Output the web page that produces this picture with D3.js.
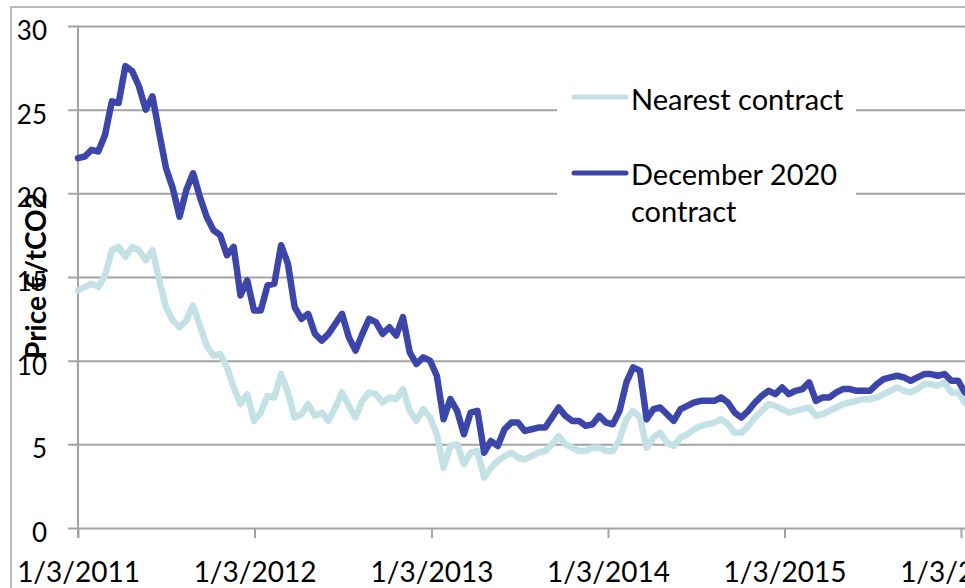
<!DOCTYPE html>
<html>
<head>
<meta charset="utf-8">
<script src="https://cdn.jsdelivr.net/npm/d3@7"></script>
<style>
  html, body { margin: 0; padding: 0; background: #ffffff; }
  svg { display: block; }
  text { font-family: Lato, "Open Sans", sans-serif; fill: #000; }
</style>
</head>
<body>
<svg id="chart" width="965" height="588"></svg>
<script>
// Fortnightly observation dates
const dates = [
  "2011-01-03","2011-01-17","2011-01-31","2011-02-14","2011-02-28","2011-03-14","2011-03-28","2011-04-11","2011-04-25","2011-05-09",
  "2011-05-23","2011-06-06","2011-06-20","2011-07-04","2011-07-18","2011-08-01","2011-08-15","2011-08-29","2011-09-12","2011-09-26",
  "2011-10-10","2011-10-24","2011-11-07","2011-11-21","2011-12-05","2011-12-19","2012-01-02","2012-01-16","2012-01-30","2012-02-13",
  "2012-02-27","2012-03-12","2012-03-26","2012-04-09","2012-04-23","2012-05-07","2012-05-21","2012-06-04","2012-06-18","2012-07-02",
  "2012-07-16","2012-07-30","2012-08-13","2012-08-27","2012-09-10","2012-09-24","2012-10-08","2012-10-22","2012-11-05","2012-11-19",
  "2012-12-03","2012-12-17","2012-12-31","2013-01-14","2013-01-28","2013-02-11","2013-02-25","2013-03-11","2013-03-25","2013-04-08",
  "2013-04-22","2013-05-06","2013-05-20","2013-06-03","2013-06-17","2013-07-01","2013-07-15","2013-07-29","2013-08-12","2013-08-26",
  "2013-09-09","2013-09-23","2013-10-07","2013-10-21","2013-11-04","2013-11-18","2013-12-02","2013-12-16","2013-12-30","2014-01-13",
  "2014-01-27","2014-02-10","2014-02-24","2014-03-10","2014-03-24","2014-04-07","2014-04-21","2014-05-05","2014-05-19","2014-06-02",
  "2014-06-16","2014-06-30","2014-07-14","2014-07-28","2014-08-11","2014-08-25","2014-09-08","2014-09-22","2014-10-06","2014-10-20",
  "2014-11-03","2014-11-17","2014-12-01","2014-12-15","2014-12-29","2015-01-12","2015-01-26","2015-02-09","2015-02-23","2015-03-09",
  "2015-03-23","2015-04-06","2015-04-20","2015-05-04","2015-05-18","2015-06-01","2015-06-15","2015-06-29","2015-07-13","2015-07-27",
  "2015-08-10","2015-08-24","2015-09-07","2015-09-21","2015-10-05","2015-10-19","2015-11-02","2015-11-16","2015-11-30","2015-12-14",
  "2015-12-28","2016-01-11"
];

// Nearest contract, €/tCO2
const nearest = [
  14.2,14.4,14.6,14.4,15.1,16.6,16.8,16.2,16.8,16.6,
  16.0,16.6,14.8,13.2,12.4,12.0,12.4,13.3,12.1,10.9,
  10.3,10.4,9.6,8.4,7.4,8.0,6.4,6.9,7.9,7.8,
  9.2,8.1,6.6,6.8,7.4,6.7,6.9,6.4,7.2,8.1,
  7.3,6.6,7.6,8.1,8.0,7.5,7.8,7.7,8.3,7.0,
  6.4,7.1,6.6,5.6,3.6,4.9,5.0,3.8,4.5,4.6,
  3.0,3.6,4.0,4.3,4.5,4.2,4.1,4.3,4.5,4.6,
  5.0,5.5,5.0,4.8,4.6,4.6,4.8,4.8,4.6,4.6,
  5.3,6.5,7.0,6.6,4.8,5.4,5.7,5.1,4.9,5.4,
  5.6,5.9,6.1,6.2,6.3,6.5,6.2,5.7,5.7,6.1,
  6.6,7.0,7.4,7.3,7.1,6.9,7.0,7.1,7.2,6.7,
  6.8,7.0,7.2,7.4,7.5,7.6,7.7,7.7,7.8,8.0,
  8.2,8.4,8.2,8.1,8.3,8.6,8.6,8.5,8.7,8.1,
  8.1,7.5
];

// December 2020 contract, €/tCO2
const dec2020 = [
  22.1,22.2,22.6,22.5,23.5,25.5,25.4,27.6,27.3,26.4,
  25.0,25.8,23.6,21.5,20.3,18.6,20.2,21.2,19.8,18.6,
  17.8,17.5,16.3,16.8,13.9,14.8,13.0,13.0,14.5,14.6,
  16.9,15.8,13.2,12.5,12.8,11.6,11.2,11.6,12.2,12.8,
  11.4,10.6,11.6,12.5,12.3,11.6,12.0,11.5,12.6,10.5,
  9.8,10.2,10.0,9.1,6.5,7.7,7.0,5.6,6.9,7.0,
  4.5,5.2,4.9,5.9,6.3,6.3,5.8,5.9,6.0,6.0,
  6.6,7.2,6.7,6.4,6.4,6.1,6.2,6.7,6.3,6.2,
  7.0,8.7,9.6,9.4,6.5,7.1,7.2,6.8,6.4,7.1,
  7.3,7.5,7.6,7.6,7.6,7.8,7.5,6.9,6.6,7.0,
  7.5,7.9,8.2,8.0,8.4,8.0,8.2,8.3,8.7,7.6,
  7.8,7.8,8.1,8.3,8.3,8.2,8.2,8.2,8.6,8.9,
  9.0,9.1,9.0,8.8,9.0,9.2,9.2,9.1,9.2,8.8,
  8.8,8.1
];

const seriesNames = ["Nearest contract", "December 2020 contract"];
const seriesColors = ["#c4e2e5", "#3c45a9"];
const yTicks = [0, 5, 10, 15, 20, 25, 30];
const xTickDates = ["2011-01-03","2012-01-03","2013-01-03","2014-01-03","2015-01-03","2016-01-03"];
const xTickLabels = ["1/3/2011","1/3/2012","1/3/2013","1/3/2014","1/3/2015","1/3/2016"];

const parse = d3.timeParse("%Y-%m-%d");
const svg = d3.select("#chart");
const W = 965, H = 588;
const gridColor = "#a3a3a3";

// Plot geometry
const plotLeft = 78, plotRight = 961, plotTop = 26, plotBottom = 528;

const x = d3.scaleTime()
  .domain([parse(xTickDates[0]), parse(xTickDates[xTickDates.length - 1])])
  .range([plotLeft, plotRight]);
const y = d3.scaleLinear().domain([0, 30]).range([plotBottom, plotTop]);

// Outer chart frame
svg.append("rect")
  .attr("x", 11).attr("y", 7)
  .attr("width", W).attr("height", H)
  .attr("fill", "none").attr("stroke", gridColor).attr("stroke-width", 1.5);

// Horizontal gridlines (the zero line doubles as the category axis)
const yAxis = d3.axisLeft(y).tickValues(yTicks).tickSize(0).tickFormat("");
svg.append("g")
  .attr("transform", "translate(68,0)")
  .call(yAxis)
  .call(g => g.select(".domain").remove())
  .call(g => g.selectAll(".tick line")
    .attr("x1", 0).attr("x2", W - 68)
    .attr("stroke", gridColor).attr("stroke-width", 2));

// Y tick labels
svg.append("g").selectAll("text")
  .data(yTicks)
  .join("text")
  .attr("x", 47)
  .attr("y", d => y(d) + 14)
  .attr("text-anchor", "end")
  .style("font-size", "26px")
  .text(d => d);

// Vertical value axis line
svg.append("line")
  .attr("x1", plotLeft).attr("x2", plotLeft)
  .attr("y1", plotTop).attr("y2", plotBottom + 10)
  .attr("stroke", gridColor).attr("stroke-width", 2);

// Date axis ticks and labels
const xAxis = d3.axisBottom(x)
  .tickValues(xTickDates.map(parse))
  .tickSize(10)
  .tickFormat((d, i) => xTickLabels[i]);
svg.append("g")
  .attr("transform", `translate(0,${plotBottom})`)
  .call(xAxis)
  .call(g => g.select(".domain").remove())
  .call(g => g.selectAll(".tick line").attr("stroke", gridColor).attr("stroke-width", 2))
  .call(g => g.selectAll(".tick text")
    .attr("y", 54).attr("dy", null)
    .style("font-size", "28px")
    .style("font-family", "Lato, 'Open Sans', sans-serif")
    .attr("fill", "#000"));

// Price lines
const line = d3.line()
  .x(d => x(d.date))
  .y(d => y(d.value))
  .curve(d3.curveLinear);

const seriesData = [nearest, dec2020].map(vals =>
  vals.map((v, i) => ({ date: parse(dates[i]), value: v })));

svg.append("g").selectAll("path")
  .data(seriesData)
  .join("path")
  .attr("d", line)
  .attr("fill", "none")
  .attr("stroke", (d, i) => seriesColors[i])
  .attr("stroke-width", 6.5)
  .attr("stroke-linejoin", "round")
  .attr("stroke-linecap", "round");

// Y axis title
svg.append("text")
  .attr("transform", "translate(46,276) rotate(-90)")
  .attr("text-anchor", "middle")
  .style("font-size", "28px")
  .style("font-weight", "bold")
  .text("Price €/tCO2");

// Legend
const legend = svg.append("g");
legend.append("rect")
  .attr("x", 557).attr("y", 66)
  .attr("width", 299).attr("height", 176)
  .attr("fill", "#fff");

const legendRows = [
  { lineY: 97, lines: ["Nearest contract"], baseline: 110 },
  { lineY: 173, lines: ["December 2020", "contract"], baseline: 185 }
];
legendRows.forEach((row, i) => {
  legend.append("line")
    .attr("x1", 574).attr("x2", 626)
    .attr("y1", row.lineY).attr("y2", row.lineY)
    .attr("stroke", seriesColors[i]).attr("stroke-width", 5)
    .attr("stroke-linecap", "round");
  const t = legend.append("text")
    .attr("x", 631).attr("y", row.baseline)
    .style("font-size", "29px");
  row.lines.forEach((s, j) => {
    t.append("tspan").attr("x", 631).attr("dy", j === 0 ? 0 : 37).text(s);
  });
});
</script>
</body>
</html>
